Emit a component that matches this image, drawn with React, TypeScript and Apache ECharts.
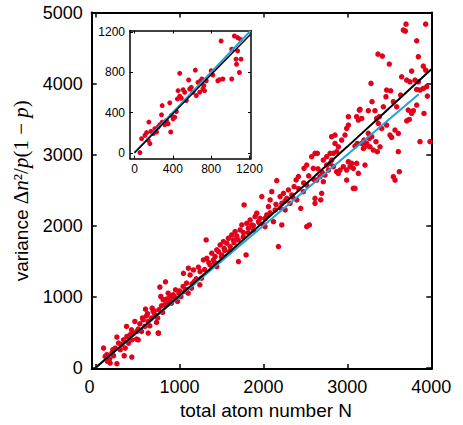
import React, { useEffect, useRef } from "react";
import * as echarts from "echarts";

// ---- tick values ----
const mainTicksX = [0, 1000, 2000, 3000, 4000];
const mainTicksY = [0, 1000, 2000, 3000, 4000, 5000];
const insetTicks = [0, 400, 800, 1200];

// ---- main panel: measured points [total atom number N, variance] ----
const mainPointsLow: number[][] = [
  [96, 276], [116, 159], [136, 182], [167, 121], [144, 88], [175, 65], [195, 206], [215, 168],
  [255, 56], [207, 253], [235, 276], [275, 346], [295, 253], [314, 323], [334, 393], [354, 276],
  [374, 440], [394, 346], [414, 464], [453, 487], [433, 393], [493, 511], [433, 149], [342, 168],
  [255, 431], [751, 487], [370, 580], [429, 533], [489, 402], [509, 543], [469, 651], [528, 618],
  [548, 510], [568, 674], [588, 580], [608, 730], [628, 651], [647, 590], [667, 698], [687, 791],
  [707, 744], [747, 487], [727, 637], [755, 815], [767, 1134], [786, 871], [806, 956], [826, 885],
  [834, 1209], [846, 965], [866, 918], [886, 1002], [906, 909], [925, 1026], [945, 965], [953, 1096],
  [977, 932], [993, 1049], [1017, 1002], [1044, 1143], [1064, 1073], [1084, 1190], [1104, 1049],
  [1144, 1120], [1175, 1213], [1243, 1167], [1263, 1260], [596, 824], [675, 838], [778, 1002],
  [866, 1049], [509, 393], [628, 487], [560, 700], [620, 760], [700, 800], [740, 700], [800, 780],
  [880, 960], [940, 1000], [1000, 1080], [1080, 1100], [1150, 1180], [1200, 1250],
];
const mainPointsMid: number[][] = [
  [1048, 1329], [1107, 1400], [1167, 1376], [1127, 1306], [1226, 1414], [1246, 1353], [1286, 1517],
  [1318, 1798], [1326, 1540], [1365, 1447], [1385, 1611], [1405, 1517], [1425, 1564], [1445, 1658],
  [1465, 1634], [1485, 1728], [1504, 1587], [1524, 1775], [1532, 1681], [1564, 1752], [1584, 1822],
  [1604, 1705], [1623, 1869], [1643, 1798], [1663, 1916], [1683, 1855], [1703, 1494], [1723, 1939],
  [1743, 2009], [1762, 1902], [1770, 2291], [1794, 1587], [1802, 2033], [1822, 1963], [1842, 2080],
  [1862, 2009], [1882, 1939], [1901, 2127], [1921, 2174], [1941, 2056], [1961, 2103], [1981, 2408],
  [2001, 2009], [2020, 1986], [2040, 2150], [2060, 2267], [2080, 2361], [2100, 2478], [2120, 2056],
  [2140, 2220], [2159, 2633], [2179, 1705], [2199, 2408], [2219, 2314], [2239, 2455], [2259, 2220],
  [2279, 2385], [2298, 2502], [2318, 2314], [2338, 2432], [2366, 2549], [2390, 2643], [2417, 2690],
  [2398, 2361], [1445, 1423], [2219, 2009], [2445, 2244], [2516, 1986], [2548, 2009], [2615, 2314],
  [2683, 2361], [1300, 1380], [1350, 1480], [1420, 1480], [1500, 1560], [1540, 1650], [1600, 1640],
  [1650, 1760], [1700, 1800], [1760, 1840], [1820, 1900], [1880, 2000], [1950, 2040], [2020, 2100],
  [2080, 2180], [2150, 2300], [2200, 2250], [2260, 2350], [2350, 2400], [2420, 2520], [2480, 2600],
  [2540, 2700], [2600, 2650], [2650, 2800], [2700, 2750],
];
const mainPointsHigh: number[][] = [
  [3699, 4836], [3933, 4836], [3667, 4752], [3691, 4738], [3826, 4602], [3365, 4414], [3417, 4386],
  [3500, 4274], [3846, 4377], [3905, 4245], [3933, 4189], [3766, 4175], [3647, 4095], [3707, 4048],
  [3746, 4025], [3806, 4048], [3846, 4025], [3282, 4002], [3468, 3908], [3460, 3814], [3516, 3898],
  [3826, 3917], [3865, 3908], [3905, 3931], [3945, 3955], [3953, 3823], [3635, 3837], [3588, 3673],
  [3429, 3673], [3548, 3744], [3294, 3744], [3250, 3617], [3329, 3617], [3151, 3636], [3171, 3509],
  [3826, 3697], [3726, 3626], [3766, 3579], [3786, 3617], [3707, 3476], [3738, 3495], [3913, 3579],
  [3012, 3533], [2992, 3368], [3111, 3533], [3131, 3486], [3349, 3509], [3369, 3439], [3409, 3368],
  [3381, 3533], [3468, 3415], [3568, 3345], [3607, 3298], [3508, 3275], [3528, 3242], [3250, 3298],
  [3290, 3251], [3262, 3228], [3230, 3157], [3270, 3110], [3198, 3204], [3171, 3157], [3222, 3120],
  [3191, 3087], [3119, 3157], [3091, 3120], [3341, 3181], [3310, 3063], [3357, 3040], [3389, 3110],
  [3607, 3040], [3865, 3181], [3985, 3181], [2972, 3275], [2932, 3204], [2893, 3110], [2853, 3157],
  [2873, 3040], [2833, 3017], [2813, 2923], [2794, 2876], [2754, 2853], [2833, 2829], [2774, 2782],
  [2873, 2759], [2913, 2782], [2893, 2735], [2952, 2829], [2992, 2782], [3032, 2829], [3012, 2899],
  [3052, 2876], [3071, 2806], [3111, 2876], [3131, 2735], [2992, 2641], [3071, 2524], [3210, 2853],
  [3548, 2688], [3568, 2641], [3619, 2759], [2595, 2806], [2635, 2641], [2674, 2688], [2694, 2454],
  [2615, 2383], [2476, 2477], [2516, 2571], [2575, 2970], [2615, 3017], [2643, 3017], [2484, 2806],
  [2516, 2853], [2714, 2923], [2754, 2970], [2794, 3017], [2813, 3251], [2853, 3275], [3012, 3415],
  [3143, 3626], [2714, 2618], [2734, 2712], [3091, 2524],
];

// ---- inset panel points ----
const insetPoints: number[][] = [
  [57, 2], [74, 140], [109, 173], [126, 200], [143, 124], [161, 91], [171, 213], [150, 305],
  [195, 190], [212, 239], [230, 206], [247, 256], [264, 279], [282, 377], [289, 305], [316, 279],
  [334, 321], [351, 288], [378, 206], [385, 371], [403, 338], [420, 354], [437, 410], [289, 469],
  [368, 496], [448, 535], [455, 617], [472, 562], [489, 542], [507, 627], [472, 789], [524, 601],
  [541, 519], [565, 723], [576, 634], [593, 650], [610, 601], [635, 821], [645, 568], [662, 700],
  [680, 601], [690, 716], [704, 733], [714, 634], [724, 667], [731, 617], [749, 716], [801, 815],
  [818, 772], [870, 716], [887, 726], [922, 733], [904, 1111], [1015, 733], [1015, 1029],
  [1077, 1012], [1095, 798], [1112, 930], [1043, 1160], [1077, 1144], [1105, 1127], [1060, 930],
  [1065, 880],
];

// ---- fit lines ----
const mainQuadFitN = [0, 1000, 2000, 3000, 4000];
const mainQuadFitV = [0, 1012, 2050, 3112, 4200];
const mainLinFitN = [0, 3850];
const mainLinFitV = [0, 3850];
const insetQuadFitN = [0, 1210];
const insetQuadFitV = [0, 1175];
const insetLinFitN = [0, 1212];
const insetLinFitV = [0, 1212];

const RED = "#e3001b";
const BLUE = "#1fa3dc";
const FONT = "Liberation Sans";
const SERIF = "Liberation Serif";

function zip(a: number[], b: number[]) {
  return a.map((v, i) => [v, b[i]]);
}

export default function App() {
  const ref = useRef<HTMLDivElement>(null);
  useEffect(() => {
    if (!ref.current) return;
    const chart = echarts.init(ref.current, null, { renderer: "svg" });

    const frameAxis = (extra: any) => ({
      type: "value",
      axisLine: { show: true, onZero: false, lineStyle: { color: "#000", width: 2 } },
      splitLine: { show: false },
      ...extra,
    });

    const mainTick = (vals: number[]) => ({
      show: true,
      inside: true,
      length: 5,
      customValues: vals,
      lineStyle: { color: "#000", width: 1.5 },
    });
    const insetTick = (vals: number[]) => ({
      show: true,
      inside: true,
      length: 3,
      customValues: vals,
      lineStyle: { color: "#000", width: 1 },
    });
    const plain = (v: number) => String(v);

    chart.setOption({
      animation: false,
      backgroundColor: "#fff",
      grid: [
        { left: 91.7, right: 31.7, top: 12.5, bottom: 55.5, containLabel: false },
        {
          left: 130,
          right: 212,
          top: 30.5,
          bottom: 266.5,
          containLabel: false,
          show: true,
          backgroundColor: "#fff",
          borderWidth: 0,
        },
      ],
      xAxis: [
        frameAxis({
          gridIndex: 0,
          position: "bottom",
          min: -45,
          max: 4000,
          axisTick: mainTick(mainTicksX),
          axisLabel: {
            customValues: mainTicksX,
            margin: 9,
            color: "#000",
            fontFamily: FONT,
            fontSize: 18,
            formatter: (v: number) => (v === 0 ? "{z|0}" : String(v)),
            rich: { z: { fontFamily: FONT, fontSize: 18, color: "#000", padding: [0, 12, 0, 0] } },
          },
          name: "total atom number N",
          nameLocation: "middle",
          nameGap: 30,
          nameTextStyle: { fontFamily: FONT, fontSize: 19, color: "#000", padding: [0, 0, 0, 9] },
        }),
        frameAxis({
          gridIndex: 0,
          position: "top",
          min: -45,
          max: 4000,
          axisTick: mainTick(mainTicksX),
          axisLabel: { show: false },
        }),
        frameAxis({
          gridIndex: 1,
          position: "bottom",
          min: -47,
          max: 1216,
          axisLine: { show: true, onZero: false, lineStyle: { color: "#000", width: 1.5 } },
          axisTick: insetTick(insetTicks),
          axisLabel: {
            customValues: insetTicks,
            margin: 4,
            color: "#000",
            fontFamily: FONT,
            fontSize: 12,
            formatter: plain,
          },
        }),
        frameAxis({
          gridIndex: 1,
          position: "top",
          min: -47,
          max: 1216,
          axisLine: { show: true, onZero: false, lineStyle: { color: "#000", width: 1.5 } },
          axisTick: insetTick(insetTicks),
          axisLabel: { show: false },
        }),
      ],
      yAxis: [
        frameAxis({
          gridIndex: 0,
          position: "left",
          min: -20,
          max: 5000,
          axisTick: mainTick(mainTicksY),
          axisLabel: {
            customValues: mainTicksY,
            margin: 9,
            color: "#000",
            fontFamily: FONT,
            fontSize: 18,
            formatter: plain,
          },
          name: "{a|variance }{m|Δ}{i|n}{m|²/}{i|p}{m|(1 − }{i|p}{m|)}",
          nameLocation: "middle",
          nameRotate: 90,
          nameGap: 52,
          nameTextStyle: {
            rich: {
              a: { fontFamily: FONT, fontSize: 19, color: "#000" },
              m: { fontFamily: SERIF, fontSize: 21, color: "#000" },
              i: { fontFamily: SERIF, fontSize: 21, fontStyle: "italic", color: "#000" },
            },
          },
        }),
        frameAxis({
          gridIndex: 0,
          position: "right",
          min: -20,
          max: 5000,
          axisTick: mainTick(mainTicksY),
          axisLabel: { show: false },
        }),
        frameAxis({
          gridIndex: 1,
          position: "left",
          min: -57,
          max: 1215,
          axisLine: { show: true, onZero: false, lineStyle: { color: "#000", width: 1.5 } },
          axisTick: insetTick(insetTicks),
          axisLabel: {
            customValues: insetTicks,
            margin: 5,
            color: "#000",
            fontFamily: FONT,
            fontSize: 12,
            formatter: plain,
          },
        }),
        frameAxis({
          gridIndex: 1,
          position: "right",
          min: -57,
          max: 1215,
          axisLine: { show: true, onZero: false, lineStyle: { color: "#000", width: 1.5 } },
          axisTick: insetTick(insetTicks),
          axisLabel: { show: false },
        }),
      ],
      series: [
        {
          type: "scatter",
          xAxisIndex: 0,
          yAxisIndex: 0,
          data: [...mainPointsLow, ...mainPointsMid, ...mainPointsHigh],
          symbolSize: 5.5,
          itemStyle: { color: RED, opacity: 1 },
          clip: false,
          z: 2,
        },
        {
          type: "line",
          xAxisIndex: 0,
          yAxisIndex: 0,
          data: zip(mainLinFitN, mainLinFitV),
          showSymbol: false,
          lineStyle: { color: BLUE, width: 2 },
          z: 3,
        },
        {
          type: "line",
          xAxisIndex: 0,
          yAxisIndex: 0,
          data: zip(mainQuadFitN, mainQuadFitV),
          showSymbol: false,
          smooth: 0.3,
          lineStyle: { color: "#000", width: 2 },
          z: 4,
        },
        {
          type: "scatter",
          xAxisIndex: 2,
          yAxisIndex: 2,
          data: insetPoints,
          symbolSize: 5,
          itemStyle: { color: RED, opacity: 1 },
          z: 2,
        },
        {
          type: "line",
          xAxisIndex: 2,
          yAxisIndex: 2,
          data: zip(insetLinFitN, insetLinFitV),
          showSymbol: false,
          lineStyle: { color: BLUE, width: 2 },
          z: 3,
        },
        {
          type: "line",
          xAxisIndex: 2,
          yAxisIndex: 2,
          data: zip(insetQuadFitN, insetQuadFitV),
          showSymbol: false,
          lineStyle: { color: "#000", width: 1.5 },
          z: 4,
        },
      ],
    });
    return () => chart.dispose();
  }, []);
  return (
    <div
      ref={ref}
      style={{ position: "fixed", left: 0, top: 0, width: 463, height: 425, background: "#fff" }}
    />
  );
}
